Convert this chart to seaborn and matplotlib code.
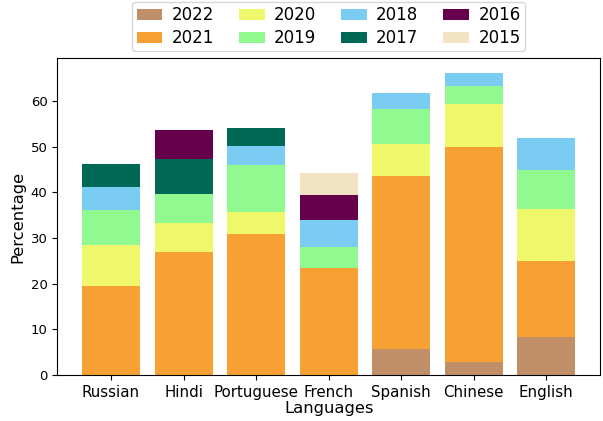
import numpy as np
import pandas as pd
import matplotlib
matplotlib.use("Agg")
import matplotlib.pyplot as plt
import seaborn as sns

languages = ["Russian", "Hindi", "Portuguese", "French", "Spanish", "Chinese", "English"]
years = ["2022", "2021", "2020", "2019", "2018", "2017", "2016", "2015"]

# share of each year, stacked bottom (2022) to top (2015)
y2022 = [0, 0, 0, 0, 5.8, 2.9, 8.3]
y2021 = [19.5, 27.0, 31.0, 23.4, 37.8, 47.1, 16.6]
y2020 = [8.9, 6.3, 4.8, 0, 6.9, 9.4, 11.4]
y2019 = [7.7, 6.3, 10.2, 4.6, 7.8, 4.0, 8.5]
y2018 = [5.1, 0, 4.1, 6.0, 3.5, 2.7, 7.0]
y2017 = [5.0, 7.7, 4.0, 0, 0, 0, 0]
y2016 = [0, 6.3, 0, 5.4, 0, 0, 0]
y2015 = [0, 0, 0, 4.8, 0, 0, 0]

colors = ["#C08F68", "#F7A033", "#EFF76A", "#90F98F", "#7BCCF2", "#006956", "#66004D", "#F2E4C2"]

series = [y2022, y2021, y2020, y2019, y2018, y2017, y2016, y2015]
tops = np.cumsum(np.array(series), axis=0)

fig, ax = plt.subplots(figsize=(6.03, 4.21), dpi=100)

# draw cumulative totals from the top layer down so each overlaps the one above
for i in range(len(years) - 1, -1, -1):
    df = pd.DataFrame({"Languages": languages, "Percentage": tops[i]})
    sns.barplot(data=df, x="Languages", y="Percentage", color=colors[i],
                saturation=1, width=0.8, label=years[i], ax=ax)

ax.set_xlim(-0.74, 6.74)
ax.set_ylim(0, 69.4)
ax.set_xlabel("Languages", fontsize=11.8, labelpad=1)
ax.set_ylabel("Percentage", fontsize=11.8)
ax.tick_params(axis="x", labelsize=10.8)
ax.tick_params(axis="y", labelsize=9.5)

handles, labels = ax.get_legend_handles_labels()
order = [labels.index(y) for y in years]
ax.legend([handles[k] for k in order], years, ncol=4, loc="lower center",
          bbox_to_anchor=(0.5, 1.0), fontsize=12, handlelength=1.55,
          columnspacing=1.5, handletextpad=0.55, borderpad=0.25, labelspacing=0.3,
          borderaxespad=0.4)

fig.subplots_adjust(left=0.095, right=0.995, top=0.862, bottom=0.109)
fig.savefig("out.png", dpi=100)
